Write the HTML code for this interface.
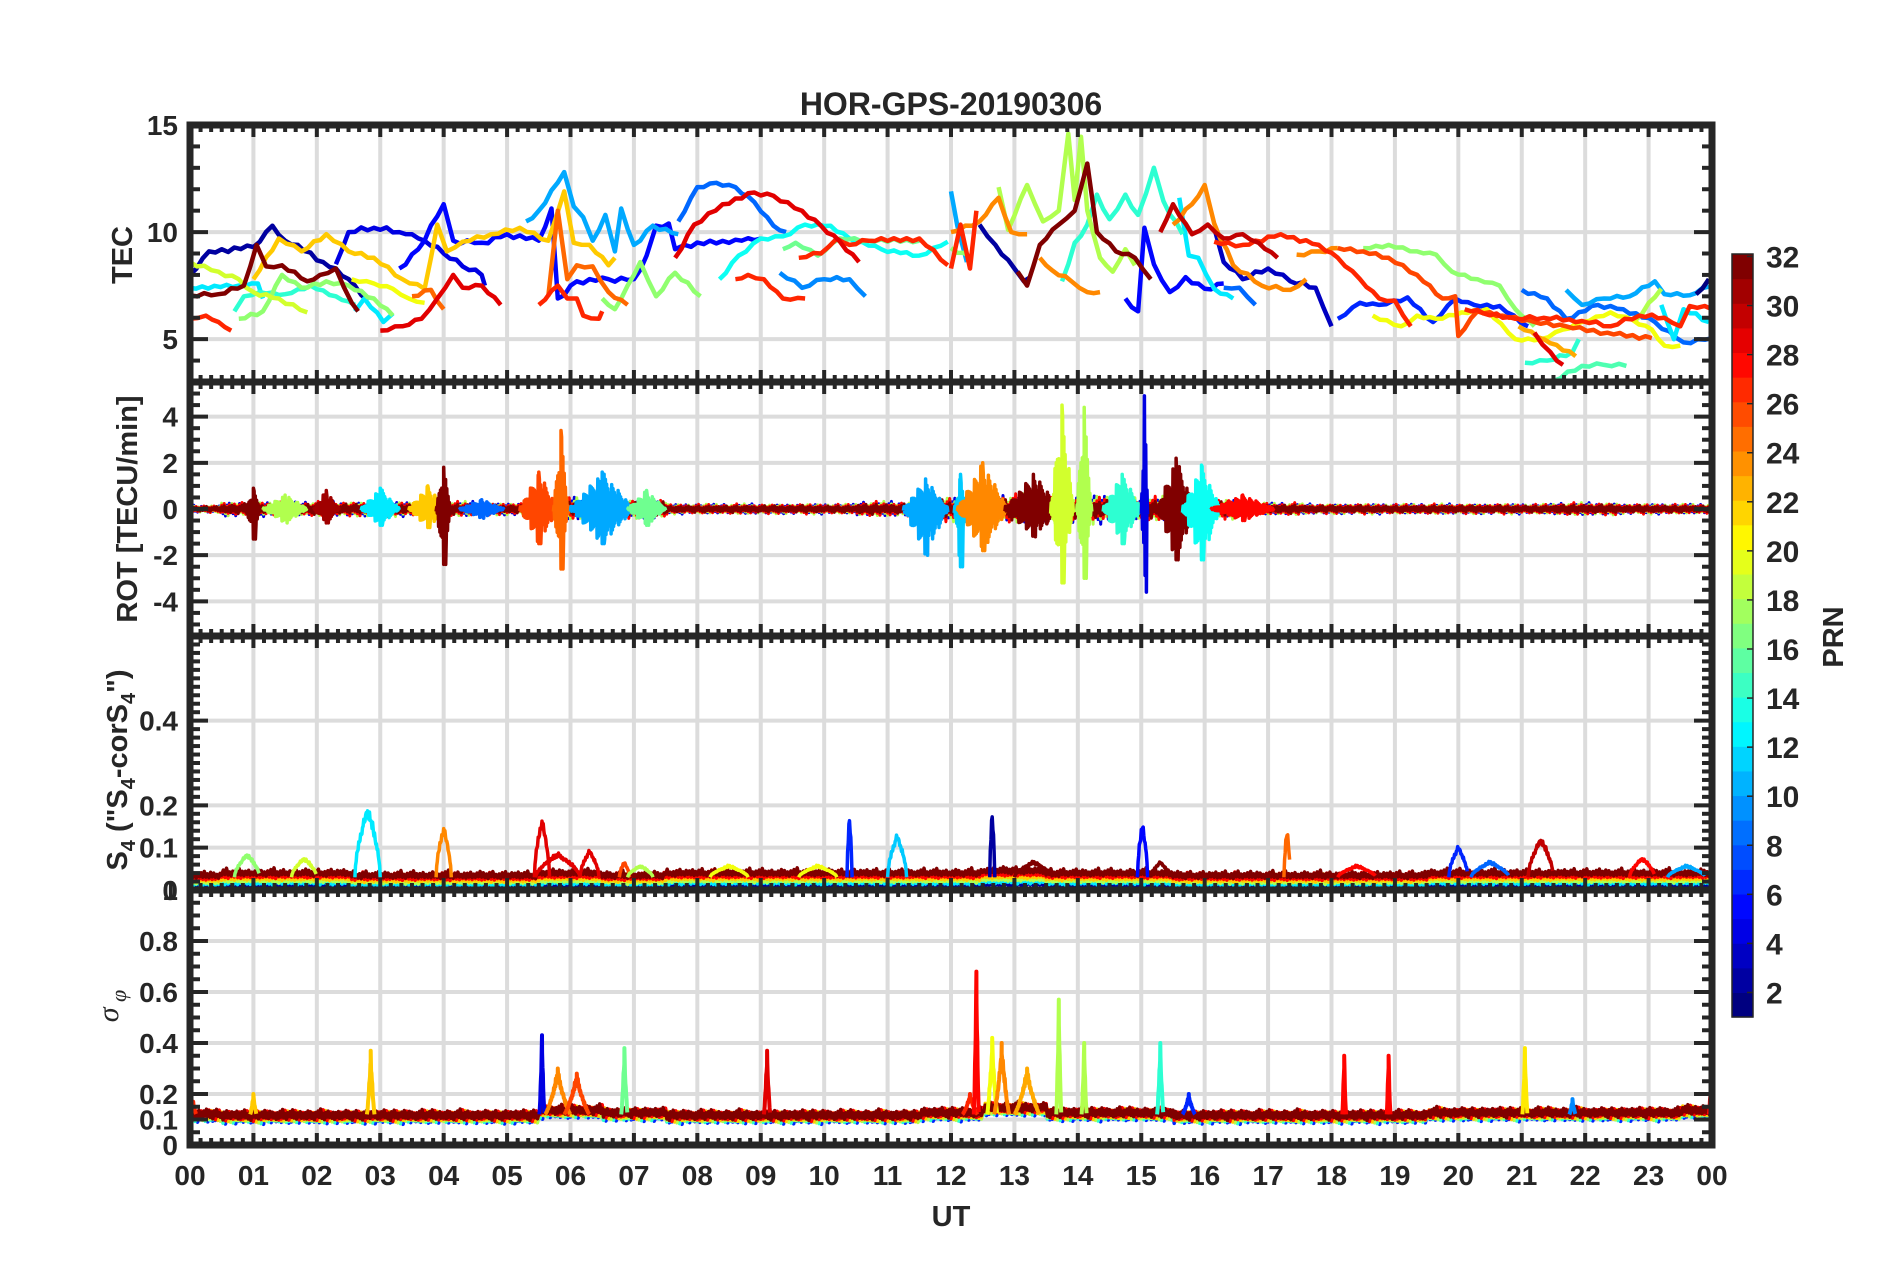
<!DOCTYPE html>
<html><head><meta charset="utf-8">
<style>
html,body{margin:0;padding:0;background:#fff;}
svg{display:block;font-family:"Liberation Sans",Arial,sans-serif;}
</style></head>
<body>
<svg id="chart" width="1902" height="1272" viewBox="0 0 1902 1272" xmlns="http://www.w3.org/2000/svg">
<rect width="1902" height="1272" fill="#fff"/>
<text x="951" y="115" text-anchor="middle" font-size="32" font-weight="bold" fill="#262626">HOR-GPS-20190306</text>
<text x="951" y="1226" text-anchor="middle" font-size="29" font-weight="bold" fill="#262626">UT</text>
<text transform="translate(132,255) rotate(-90)" text-anchor="middle" font-size="29" font-weight="bold" fill="#262626">TEC</text>
<text transform="translate(137,509) rotate(-90)" text-anchor="middle" font-size="29" font-weight="bold" fill="#262626">ROT [TECU/min]</text>
<text transform="translate(127,770) rotate(-90)" text-anchor="middle" font-size="29" font-weight="bold" fill="#262626">S<tspan font-size="20" dy="8">4</tspan><tspan dy="-8"> ("S</tspan><tspan font-size="20" dy="8">4</tspan><tspan dy="-8">-corS</tspan><tspan font-size="20" dy="8">4</tspan><tspan dy="-8">")</tspan></text>
<text transform="translate(118,1006) rotate(-90)" text-anchor="middle" font-size="30" font-style="italic" font-family="Liberation Serif,serif" fill="#262626">σ<tspan font-size="22" dy="8"> φ</tspan></text>
<text transform="translate(1843,637) rotate(-90)" text-anchor="middle" font-size="29" font-weight="bold" fill="#262626">PRN</text>
<g id="layer"></g>
</svg>
<script>
// ---------- DATA ----------
const hourLabels=["00","01","02","03","04","05","06","07","08","09","10","11","12","13","14","15","16","17","18","19","20","21","22","23","00"];
const tecTicks=[5,10,15];
const rotTicks=[-4,-2,0,2,4];
const s4Ticks=[0,0.1,0.2,0.4];
const sigTicks=[0,0.1,0.2,0.4,0.6,0.8,1];
const cbTicks=[2,4,6,8,10,12,14,16,18,20,22,24,26,28,30,32];

const tecPRN=[2,4,5,8,9,10,12,12,13,14,16,17,17,19,20,22,25,25,27,27,27,27,29,29,32,
  2,3,5,6,8,8,10,10,12,12,14,14,15,17,17,18,18,20,23,24,24,24,24,26,27,27,27,29,30,32,1];
const tecTimes=[
 [0,0.3,1.0,1.3,1.5,1.7,2.1,2.3,2.6,2.8],
 [2.3,2.5,2.9,3.3,3.5,3.7,4.0,4.3,4.6,4.65],
 [3.3,3.6,4.0,4.15,4.6,5.0,5.5,5.7,5.8,6.1,6.6,7.0,7.2,7.35,7.55,7.65,7.8,9.0],
 [7.7,8.0,8.3,8.6,8.9,9.2,9.4],
 [9.3,9.65,10.0,10.4,10.65],
 [5.3,5.5,5.9,6.05,6.2,6.35,6.55,6.7,6.8,7.0,7.3,7.7],
 [0,0.77,1.07,1.15],
 [2.6,2.75,3.05,3.2],
 [8.35,8.65,9.0,9.35,9.7,10.1,10.4,10.9,11.5,11.95],
 [0.7,0.85,1.1,1.5,1.9,2.3,2.6],
 [9.35,9.55,9.9,10.25,10.7,11.5],
 [0.77,1.15,1.45,1.76,2.15,2.5,2.9,3.2],
 [6.5,6.7,6.9,7.1,7.35,7.65,8.05],
 [0,0.45,0.77,1.0,1.4,1.85],
 [2.55,2.9,3.2,3.45,3.7],
 [1.0,1.4,1.76,2.15,2.5,2.9,3.35,3.7,3.9,4.05,4.3,4.75,5.2,5.65,5.9,6.05,6.3,6.6,6.7],
 [3.5,3.8,4.0],
 [5.65,5.8,5.95,6.1,6.35,6.6,6.9],
 [0,0.25,0.45,0.65],
 [5.5,5.8,5.95,6.1,6.2,6.45,6.5],
 [8.6,8.8,9.05,9.35,9.7],
 [9.6,9.95,10.2,10.4,10.7,11.5,11.95],
 [7.65,7.95,8.4,8.9,9.2,9.65,9.95,10.25,10.55],
 [3.0,3.35,3.65,3.9,4.15,4.3,4.6,4.9],
 [0,0.45,0.85,1.05,1.2,1.45,1.85,2.05,2.3,2.55,2.65],
 [12.45,12.7,13.0,13.15,13.25],
 [16.15,16.3,16.6,17.0,17.35,17.75,18.0],
 [14.75,14.95,15.05,15.2,15.45,15.7,16.0,16.3],
 [18.1,18.45,18.75,19.2,19.6,19.95,20.25,20.65,21.1],
 [16.3,16.55,16.8],
 [21.0,21.4,21.7,22.2,22.6,23.1,23.55,24.0],
 [12.0,12.1,12.25],
 [21.7,21.95,22.3,22.7,23.1,23.25,23.65,23.95],
 [15.6,15.75,15.9,16.15,16.45],
 [23.2,23.4,23.55,23.95],
 [13.75,13.95,14.15,14.3,14.5,14.75,14.95,15.2,15.35,15.65],
 [21.05,21.4,21.8,21.9],
 [21.5,21.95,22.3,22.65],
 [12.0,12.3],
 [18.5,18.9,19.35,19.65,19.9,20.3,20.65,20.9,21.2],
 [12.75,12.9,13.2,13.45,13.7,13.85,13.95,14.05,14.15,14.35,14.55,14.75,14.9],
 [22.8,23.2],
 [18.65,19.1,19.35,19.65,20.05,20.45,20.9,21.3,21.65,21.95,22.4,22.75,23.05,23.25,23.5],
 [20.95,21.35,21.85],
 [12.0,12.45,12.75,12.95,13.2],
 [13.4,13.6,13.9,14.15,14.35],
 [15.5,15.8,16.0,16.15,16.45,16.9,17.35,17.6],
 [17.45,17.8,18.1],
 [18.1,18.5,18.9,19.35,19.75,19.95,20.0,20.3,20.7,21.2,21.7,22.35,23.05],
 [12.0,12.15,12.3,12.4],
 [16.15,16.6,17.2,17.8,18.1,18.45,18.75,19.0,19.25],
 [20.1,20.4,20.9,21.35,21.95,22.4,22.85,23.25,23.5,23.65,24.0],
 [21.2,21.45,21.65],
 [15.3,15.5,15.8,16.05,16.3,16.6,16.85,17.15],
 [13.05,13.2,13.4,13.7,13.95,14.15,14.3,14.6,14.9,15.15],
 [23.75,23.95]
];
const tecValues=[
 [8.0,9.1,9.3,10.3,9.6,9.4,8.6,8.3,7.5,6.8],
 [8.5,10.0,10.2,10.0,9.9,9.6,9.0,8.4,8.0,7.5],
 [8.3,9.2,11.3,9.6,9.5,9.9,9.6,11.1,6.9,7.7,7.8,7.8,8.9,10.3,10.4,9.2,9.4,9.7],
 [10.5,12.1,12.3,12.1,11.4,10.3,10.0],
 [8.1,7.4,7.8,7.8,7.0],
 [10.5,11.0,12.8,11.2,10.7,9.6,10.8,9.1,11.1,9.4,10.3,9.9],
 [7.4,7.5,7.6,6.9],
 [6.3,6.9,5.8,6.2],
 [7.8,8.9,9.7,9.8,10.35,10.3,9.7,9.2,8.9,9.55],
 [6.3,7.0,7.2,7.1,7.5,7.0,6.6],
 [9.2,9.5,8.9,9.7,9.6,9.6],
 [5.95,6.3,8.0,7.4,7.7,7.5,6.9,6.1],
 [6.9,6.4,7.5,8.6,7.0,8.1,7.0],
 [8.6,8.15,7.8,7.2,6.9,6.25],
 [7.8,7.6,7.35,6.9,6.7],
 [7.8,9.7,9.1,9.9,9.1,8.8,7.8,7.35,10.35,9.1,9.55,9.9,10.2,9.6,11.9,9.5,9.4,8.45,8.8],
 [7.0,7.3,6.4],
 [7.0,11.0,7.8,8.45,8.4,7.2,6.6],
 [5.95,6.1,5.8,5.4],
 [6.6,7.5,6.9,6.9,6.1,5.95,6.3],
 [7.8,8.0,7.8,6.9,6.9],
 [8.8,9.0,9.7,9.4,9.6,9.7,8.45],
 [8.8,10.35,11.3,11.85,11.7,11.0,10.3,9.55,8.6],
 [5.4,5.6,5.95,6.9,8.0,7.4,7.5,6.6],
 [7.05,7.1,7.5,9.4,8.4,8.45,7.7,8.0,8.3,6.7,6.3],
 [10.35,9.4,8.3,7.7,7.9],
 [10.2,8.6,7.8,8.3,7.7,7.4,5.6],
 [6.9,6.3,10.2,8.5,7.2,7.9,7.35,7.6],
 [5.95,6.7,6.6,6.95,5.8,6.9,6.6,6.55,5.6],
 [7.4,7.4,6.6],
 [7.3,6.9,5.95,6.6,6.4,5.8,4.85,5.05],
 [11.9,10.3,8.6],
 [7.3,6.6,6.9,7.0,7.7,7.1,7.05,7.45],
 [11.6,8.9,8.8,7.35,6.9],
 [6.6,5.0,6.4,5.8],
 [7.7,9.5,10.35,11.75,10.6,11.75,10.8,13.0,11.45,9.9],
 [3.9,4.0,4.4,5.0],
 [3.05,3.75,3.8,3.75],
 [9.25,8.85],
 [9.25,9.4,9.1,8.95,8.15,7.8,7.5,6.4,5.6],
 [12.1,10.1,12.2,10.5,11.0,14.6,11.5,14.45,11.0,8.8,8.15,9.2,8.45],
 [5.9,7.35],
 [6.1,5.6,6.1,5.95,6.25,6.4,5.0,5.0,5.45,5.8,6.25,5.9,5.45,4.7,4.7],
 [5.6,5.0,4.2],
 [10.0,10.5,11.6,10.0,9.9],
 [8.8,8.2,7.7,7.2,7.2],
 [10.35,11.3,12.2,10.4,8.45,7.5,7.3,7.8],
 [8.95,9.1,9.25],
 [9.25,9.1,8.8,8.0,6.9,7.0,5.15,6.3,6.1,5.8,5.6,5.3,5.05],
 [8.3,10.35,8.3,11.0],
 [9.55,9.4,9.9,9.4,8.8,7.8,6.9,6.8,5.6],
 [6.4,6.2,5.95,6.0,5.85,5.6,6.1,6.0,5.6,6.55,6.4],
 [5.3,4.4,3.8],
 [10.0,11.3,9.9,10.35,9.7,9.9,9.5,8.8],
 [8.15,7.5,9.4,10.35,11.0,13.2,10.0,9.1,8.8,7.8],
 [7.1,7.8]
];

const rotBurstT=[1.0,1.5,2.15,3.0,3.75,4.0,4.6,5.5,5.85,6.5,7.2,11.6,12.15,12.5,13.3,13.75,14.1,14.7,15.05,15.55,15.95,16.6];
const rotBurstW=[0.12,0.35,0.2,0.3,0.3,0.12,0.35,0.3,0.12,0.5,0.3,0.35,0.1,0.4,0.45,0.18,0.12,0.3,0.05,0.3,0.3,0.5];
const rotBurstUp=[0.9,0.6,0.8,0.9,1.0,1.8,0.4,1.6,3.4,1.6,0.8,1.3,1.5,2.0,1.5,4.5,4.4,1.5,4.9,2.2,1.9,0.6];
const rotBurstDn=[1.3,0.6,0.6,0.7,0.8,2.4,0.4,1.5,2.6,1.5,0.7,2.0,2.5,1.8,1.2,3.2,3.0,1.5,3.6,2.2,2.2,0.5];
const rotBurstPRN=[32,18,31,12,22,32,8,26,25,10,16,10,11,24,32,19,18,14,4,32,13,28];
const rotBaseAmp=[0.15,0.3,0.3,0.3,0.3,0.25,0.5,0.4,0.2,0.2,0.2,0.3,0.5,0.6,0.6,0.5,0.4,0.25,0.2,0.2,0.2,0.2,0.25,0.2,0.2];

const s4Base=[0.03,0.035,0.035,0.03,0.03,0.03,0.035,0.03,0.035,0.035,0.035,0.035,0.035,0.04,0.035,0.035,0.03,0.03,0.03,0.03,0.035,0.035,0.035,0.035,0.035];
const s4SpikeT=[0.9,1.8,2.8,4.0,5.55,5.8,6.3,6.85,7.1,8.5,9.9,10.4,11.15,12.65,13.3,15.02,15.3,17.3,18.4,20.0,20.5,21.3,22.9,23.6];
const s4SpikeV=[0.09,0.08,0.21,0.16,0.18,0.09,0.1,0.07,0.06,0.06,0.06,0.18,0.14,0.19,0.07,0.17,0.07,0.15,0.06,0.11,0.07,0.13,0.08,0.06];
const s4SpikeW=[0.2,0.2,0.2,0.12,0.12,0.35,0.15,0.08,0.2,0.3,0.3,0.04,0.15,0.04,0.3,0.08,0.15,0.05,0.3,0.15,0.3,0.2,0.2,0.3];
const s4SpikePRN=[17,19,12,24,29,29,29,26,18,20,20,6,11,2,32,5,32,25,28,6,8,30,28,10];

const sigBase=[0.115,0.11,0.11,0.11,0.11,0.11,0.13,0.12,0.11,0.11,0.11,0.11,0.12,0.14,0.12,0.12,0.11,0.11,0.11,0.11,0.12,0.12,0.12,0.12,0.13];
const sigSpikeT=[0.05,1.0,2.85,5.55,5.8,6.1,6.85,9.1,12.3,12.4,12.65,12.8,13.2,13.7,14.1,15.3,15.75,18.2,18.9,21.05,21.8,24.0];
const sigSpikeV=[0.17,0.2,0.37,0.43,0.3,0.28,0.38,0.37,0.2,0.68,0.42,0.4,0.3,0.57,0.4,0.4,0.2,0.35,0.35,0.38,0.18,0.34];
const sigSpikeW=[0.05,0.05,0.06,0.04,0.2,0.2,0.05,0.05,0.12,0.04,0.08,0.12,0.2,0.04,0.04,0.05,0.1,0.03,0.03,0.04,0.05,0.05];
const sigSpikePRN=[27,22,22,4,24,26,16,29,27,28,20,24,23,18,18,14,6,28,28,21,9,28];

// ---------- LAYOUT ----------
const XL=190, XR=1712;
const X=h=>XL+h*(XR-XL)/24;
const panels=[
 {name:'tec',y0:125,y1:382,min:3,max:15,ticks:tecTicks,minor:1},
 {name:'rot',y0:382,y1:636,min:-5.5,max:5.5,ticks:rotTicks,minor:0.5},
 {name:'s4',y0:636,y1:890,min:0,max:0.6,ticks:s4Ticks,minor:0.02},
 {name:'sigma',y0:890,y1:1145,min:0,max:1,ticks:sigTicks,minor:0.05}
];
panels.forEach(p=>{p.Y=v=>p.y1-(v-p.min)/(p.max-p.min)*(p.y1-p.y0);});

function jet(v){
  const f=x=>Math.max(0,Math.min(1,x));
  const r=f(1.5-Math.abs(4*v-3)), g=f(1.5-Math.abs(4*v-2)), b=f(1.5-Math.abs(4*v-1));
  return `rgb(${Math.round(r*255)},${Math.round(g*255)},${Math.round(b*255)})`;
}
const prnColor=p=>jet((p-1)/31);

const NS='http://www.w3.org/2000/svg';
const layer=document.getElementById('layer');
function el(tag,attrs,parent){const e=document.createElementNS(NS,tag);for(const k in attrs)e.setAttribute(k,attrs[k]);(parent||layer).appendChild(e);return e;}

const defs=el('defs',{});
panels.forEach(p=>{
  const c=el('clipPath',{id:'clip-'+p.name},defs);
  el('rect',{x:XL,y:p.y0,width:XR-XL,height:p.y1-p.y0},c);
});

panels.forEach(p=>{
  const g=el('g',{});
  
  
  for(let h=1;h<24;h++) el('line',{x1:X(h),x2:X(h),y1:p.y0,y2:p.y1,stroke:'#dcdcdc','stroke-width':4},g);
  p.ticks.forEach(t=>{if(t>p.min&&t<p.max) el('line',{x1:XL,x2:XR,y1:p.Y(t),y2:p.Y(t),stroke:'#dcdcdc','stroke-width':4},g);});
});

function poly(p,pts,color,w,name){
  const clean=pts.filter(q=>isFinite(q[0])&&isFinite(q[1]));
  const e=el('polyline',{points:clean.map(q=>q[0].toFixed(1)+','+q[1].toFixed(1)).join(' '),fill:'none',stroke:color,'stroke-width':w,'stroke-linejoin':'round','clip-path':`url(#clip-${p.name})`});
  
  
  return e;
}
const tex=i=>0.25+0.75*(((i*7)%11)/10)*(((i*3)%5)/4*0.6+0.4);
const btex=i=>0.45+0.55*(((i*7)%11)/10);

// TEC
const P0=panels[0];
tecTimes.forEach((ts,si)=>{
  const vs=tecValues[si], pts=[];
  for(let i=0;i<ts.length;i++){
    pts.push([X(ts[i]),P0.Y(vs[i])]);
    if(i<ts.length-1){
      const x0=X(ts[i]),x1=X(ts[i+1]),y0=P0.Y(vs[i]),y1=P0.Y(vs[i+1]);
      const n=Math.max(1,Math.floor((x1-x0)/6));
      for(let k=1;k<n;k++){
        pts.push([x0+(x1-x0)*k/n, y0+(y1-y0)*k/n+((k%2)?2.5:-2.5)*tex(k+si)]);
      }
    }
  }
  poly(P0,pts,prnColor(tecPRN[si]),4.5,'tec-line-prn'+tecPRN[si]);
});

// ROT baseline
const P1=panels[1];
[4,12,18,22,28,32].forEach((prn,li)=>{
  const pts=[];let i=0;
  for(let h=0;h<=24;h+=0.02,i++){
    const a=rotBaseAmp[Math.min(24,Math.round(h))]*tex(i+li*3)*(li%2?0.8:1.1);
    pts.push([X(h),P1.Y((i%2?1:-1)*a)]);
  }
  poly(P1,pts,prnColor(prn),3,'rot-baseline-prn'+prn);
});
rotBurstT.forEach((tc,bi)=>{
  const w=rotBurstW[bi],pts=[];let i=0;
  for(let h=tc-w;h<=tc+w;h+=0.01,i++){
    const d=Math.abs(h-tc)/w;
    let env=Math.max(0.08,1-d)*btex(i*3+bi);
    if(Math.abs(h-tc)<0.006) env=1;
    pts.push([X(h),P1.Y(i%2?rotBurstUp[bi]*env:-rotBurstDn[bi]*env)]);
  }
  // guaranteed peak pair at center
  pts.push([X(tc),P1.Y(rotBurstUp[bi])],[X(tc)+2,P1.Y(-rotBurstDn[bi])],[X(tc)+3,P1.Y(0)]);
  pts.sort((a,b)=>a[0]-b[0]);
  poly(P1,pts,prnColor(rotBurstPRN[bi]),3.5,'rot-burst-prn'+rotBurstPRN[bi]);
});

// S4
const P2=panels[2];
[2,12,18,22,28,32].forEach((prn,li)=>{
  const pts=[];let i=0;
  for(let h=0;h<=24;h+=0.025,i++){
    const b=s4Base[Math.min(24,Math.round(h))]*(0.35+0.15*li)+(i%2?0.014:-0.006)*tex(i+li);
    pts.push([X(h),P2.Y(Math.max(0.003,b))]);
  }
  poly(P2,pts,prnColor(prn),3.5,'s4-baseline-prn'+prn);
});
s4SpikeT.forEach((tc,si)=>{
  const w=s4SpikeW[si],pts=[];let i=0;
  for(let h=tc-w;h<=tc+w;h+=0.01,i++){
    const env=Math.max(0,1-Math.abs(h-tc)/w);
    const v=0.03+(s4SpikeV[si]-0.03)*Math.pow(env,0.6)*(0.75+0.25*tex(i));
    pts.push([X(h),P2.Y(v)]);
  }
  poly(P2,pts,prnColor(s4SpikePRN[si]),3.5,'s4-spike-prn'+s4SpikePRN[si]);
});

// sigma phi
const P3=panels[3];
[6,14,18,22,28,32].forEach((prn,li)=>{
  const pts=[];let i=0;
  for(let h=0;h<=24;h+=0.02,i++){
    const b=sigBase[Math.min(24,Math.round(h))]+(i%2?0.025:-0.02)*tex(i+li*2)+(li-3)*0.003;
    pts.push([X(h),P3.Y(b)]);
  }
  poly(P3,pts,prnColor(prn),3.5,'sigma-baseline-prn'+prn);
});
sigSpikeT.forEach((tc,si)=>{
  const w=sigSpikeW[si],pts=[];let i=0;
  for(let h=tc-w;h<=tc+w+0.0001;h+=0.006,i++){
    const env=Math.max(0,1-Math.abs(h-tc)/w);
    const v=0.12+(sigSpikeV[si]-0.12)*Math.pow(env,1.3)*(0.7+0.3*tex(i));
    pts.push([X(h),P3.Y(v)]);
  }
  pts.push([X(tc),P3.Y(sigSpikeV[si])]);
  pts.sort((a,b)=>a[0]-b[0]);
  poly(P3,pts,prnColor(sigSpikePRN[si]),4,'sigma-spike-prn'+sigSpikePRN[si]);
});

// frames + ticks
const DK='#262626';
panels.forEach((p,pi)=>{
  const g=el('g',{});
  
  
  for(let m=0;m<=144;m++){
    const x=X(m/6), L=(m%6===0)?12:7;
    el('line',{x1:x,x2:x,y1:p.y0,y2:p.y0+L,stroke:DK,'stroke-width':4},g);
    el('line',{x1:x,x2:x,y1:p.y1,y2:p.y1-L,stroke:DK,'stroke-width':4},g);
  }
  const n=Math.round((p.max-p.min)/p.minor);
  for(let k=0;k<=n;k++){
    const v=p.min+k*p.minor; const y=p.Y(v);
    const major=p.ticks.some(t=>Math.abs(t-v)<1e-6);
    const L=major?18:10;
    el('line',{x1:XL,x2:XL+L,y1:y,y2:y,stroke:DK,'stroke-width':4},g);
    el('line',{x1:XR,x2:XR-L,y1:y,y2:y,stroke:DK,'stroke-width':4},g);
  }
  el('rect',{x:XL,y:p.y0,width:XR-XL,height:p.y1-p.y0,fill:'none',stroke:DK,'stroke-width':7},g);
  p.ticks.forEach(t=>{
    const tx=el('text',{x:178,y:p.Y(t)+10,'text-anchor':'end','font-size':28,'font-weight':'bold',fill:DK},g);
    tx.textContent=String(t);
    
    
  });
});
hourLabels.forEach((lab,i)=>{
  const t=el('text',{x:X(i),y:1185,'text-anchor':'middle','font-size':28,'font-weight':'bold',fill:DK});
  t.textContent=lab;
  
  
});

// colorbar
const cbTop=254, cbBot=1017, cbX=1732, cbW=21, cbMin=1, cbMax=32.1;
const cbY=v=>cbBot-(v-cbMin)/(cbMax-cbMin)*(cbBot-cbTop);
const cbg=el('g',{});


for(let k=0;k<31;k++){
  const ya=cbBot-(k+1)*(cbBot-cbTop)/31, yb=cbBot-k*(cbBot-cbTop)/31;
  el('rect',{x:cbX,y:ya,width:cbW,height:yb-ya+0.6,fill:jet(k/30)},cbg);
}
el('rect',{x:cbX,y:cbTop,width:cbW,height:cbBot-cbTop,fill:'none',stroke:DK,'stroke-width':1.5},cbg);
cbTicks.forEach(t=>{
  const y=cbY(t);
  el('line',{x1:cbX+cbW-6,x2:cbX+cbW,y1:y,y2:y,stroke:DK,'stroke-width':1.5},cbg);
  const tx=el('text',{x:1766,y:y+11,'font-size':30,'font-weight':'bold',fill:DK},cbg);
  tx.textContent=String(t);
  
  
});
</script>
</body></html>
